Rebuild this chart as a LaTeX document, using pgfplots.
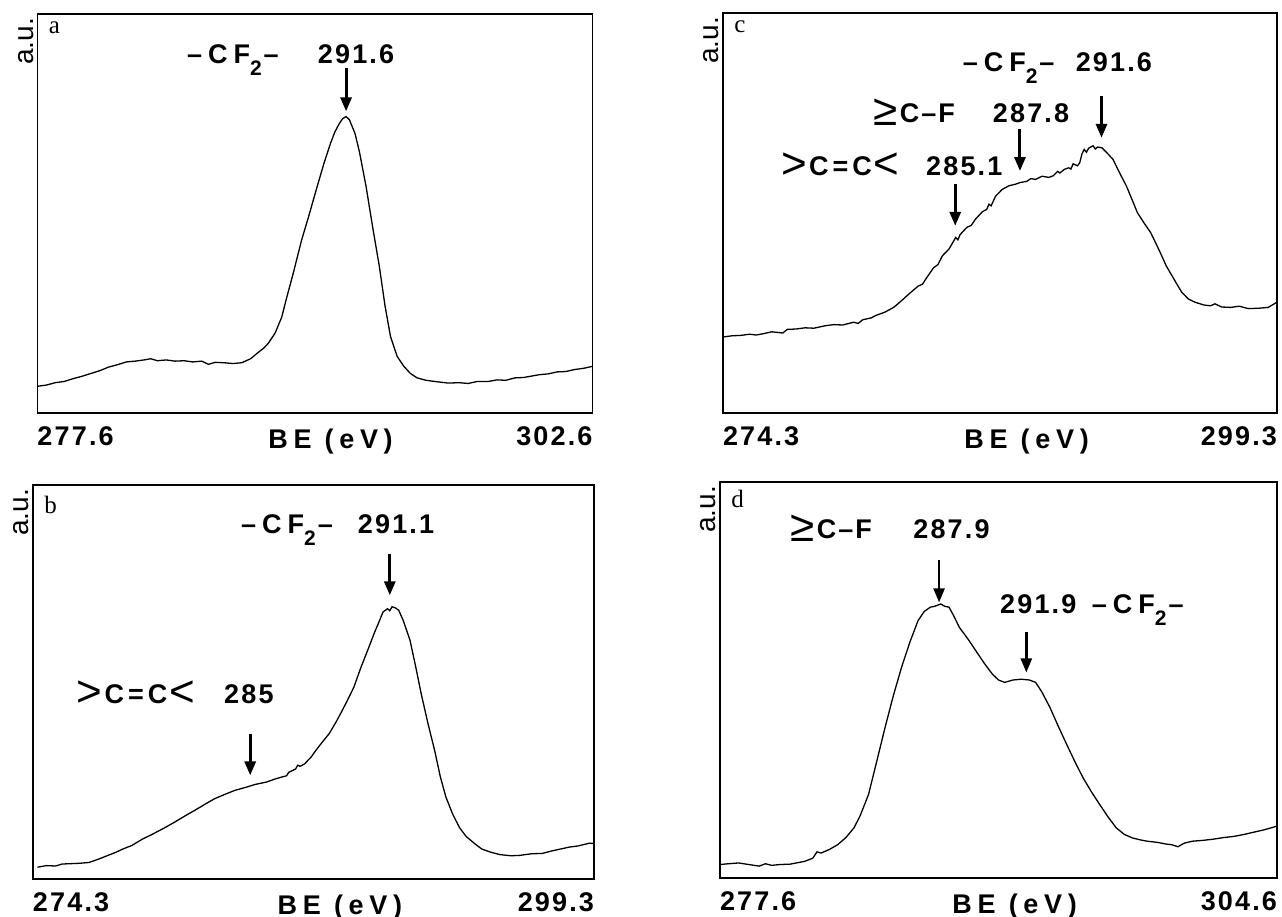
\documentclass[border=0pt]{standalone}
\usepackage{fontspec}
\setmainfont{Liberation Sans}
\newfontfamily\letterfont{Liberation Serif}
\newfontfamily\lblfont[LetterSpace=8]{Liberation Sans}
\newfontfamily\befont[LetterSpace=21]{Liberation Sans}
\usepackage{pgfplots}
\pgfplotsset{compat=1.18}
\usetikzlibrary{arrows.meta}

\newcommand\lbl{\lblfont\bfseries\fontsize{13.5}{15}\selectfont}
\newcommand\sub[1]{\raisebox{-6pt}{\fontsize{10.5}{10.5}\selectfont #1}}
\newcommand\CFtwo{–\hspace{3pt}C\hspace{3pt}F\sub{2}\hspace{1pt}–}
\newcommand\bigsym[1]{{\mdseries\fontsize{22}{22}\selectfont\raisebox{-1.5pt}{#1}}}
\newcommand\CeqC{\bigsym{>}\hspace{1pt}C\hspace{2pt}=\hspace{2pt}C\hspace{1pt}\bigsym{<}}
\newcommand\CF{\bigsym{≥}\hspace{1pt}C\hspace{1pt}–\hspace{1pt}F}

\pgfplotsset{
  xps/.style={
    scale only axis, anchor=north west,
    ymin=0, ymax=100, ytick=\empty,
    major tick length=0pt,
    axis line style={line width=0.9pt},
    clip=false,
    xticklabel style={anchor=base, yshift=-16pt, font=\lbl},
  },
  spec/.style={black, line width=0.65pt, no marks},
}
\tikzset{pk/.style={line width=1.5pt, -{Triangle[length=7pt, width=5.5pt]}}}
\newcommand\panelbits[3]{% letter, letter yshift, BE position
  \node[rotate=90, anchor=south east, inner sep=1.8pt,
        font=\fontsize{14}{14}\selectfont] at (rel axis cs:0,1) {a.u.};
  \node[anchor=base west, inner sep=0pt, font=\letterfont\fontsize{12.5}{13}\selectfont]
        at (rel axis cs:0,1) [xshift=5.5pt, yshift=#2] {#1};
  \node[anchor=base, inner sep=0pt, font=\befont\bfseries\fontsize{13.5}{15}\selectfont]
        at (rel axis cs:#3,0) [yshift=-17.5pt] {BE (eV)};
}

\begin{document}
\begin{tikzpicture}
\path[use as bounding box] (0,0) rectangle (641pt,-458.5pt);

% ---------------- panel a ----------------
\begin{axis}[xps, at={(18.75pt,-7pt)}, width=277.5pt, height=199.5pt,
  xmin=277.6, xmax=302.6,
  xtick={277.6,302.6}, xticklabels={\rlap{277.6},\llap{302.6}}]
\addplot[spec] coordinates {
(277.6,6.7) (278.0,7.0) (278.4,7.6) (278.8,7.9) (279.2,8.6) (279.6,9.2)
(280.0,9.9) (280.4,10.6) (280.8,11.5) (281.2,12.1) (281.6,12.8) (282.0,13.0)
(282.4,13.3) (282.7,13.6) (283.0,13.1) (283.4,13.3) (283.8,13.0) (284.2,13.1)
(284.6,12.8) (285.0,13.0) (285.3,12.2) (285.6,12.7) (286.0,12.6) (286.4,12.4)
(286.8,12.6) (287.2,13.6) (287.5,15.0) (287.8,16.3) (288.0,17.5) (288.3,20.0)
(288.6,24.0) (288.8,28.4) (289.1,34.6) (289.5,43.4) (289.8,49.0) (290.2,56.8)
(290.5,62.5) (290.8,67.6) (291.0,70.5) (291.2,72.6) (291.35,73.8) (291.5,74.3)
(291.65,73.5) (291.9,70.1) (292.1,65.5) (292.4,56.8) (292.7,46.5) (293.0,36.7)
(293.25,27.0) (293.5,19.2) (293.8,14.2) (294.1,11.7) (294.4,9.9) (294.7,8.8)
(295.1,8.2) (295.5,7.9) (296.1,7.5) (296.6,7.6) (297.0,7.4) (297.4,7.9)
(297.9,7.9) (298.3,8.3) (298.7,8.2) (299.1,8.8) (299.5,8.9) (299.8,9.2)
(300.2,9.6) (300.6,9.8) (301.0,10.3) (301.4,10.4) (301.8,10.9) (302.2,11.2)
(302.6,11.7)
};
\panelbits{a}{-9.5pt}{0.528}
\node[anchor=base, font=\lbl] at (axis cs:286.4,87.6) {\CFtwo};
\node[anchor=base, font=\lbl] at (axis cs:291.95,87.6) {291.6};
\draw[pk] (axis cs:291.5,86.4) -- (axis cs:291.5,75.6);
\end{axis}

% ---------------- panel c ----------------
\begin{axis}[xps, at={(361.5pt,-6.5pt)}, width=277pt, height=200pt,
  xmin=274.3, xmax=299.3,
  xtick={274.3,299.3}, xticklabels={\rlap{274.3},\llap{299.3}}]
\addplot[spec] coordinates {
(274.3,19.0) (274.7,19.3) (275.1,19.4) (275.5,19.7) (275.8,19.5) (276.1,19.8)
(276.5,20.3) (277.0,20.0) (277.2,20.9) (277.6,21.0) (278.0,21.3) (278.4,21.2)
(278.9,21.8) (279.3,22.1) (279.7,22.0) (280.2,22.7) (280.4,22.4) (280.6,23.3)
(281.0,23.8) (281.2,24.4) (281.6,25.2) (282.0,26.4) (282.3,27.8) (282.7,29.8)
(283.1,31.7) (283.3,32.2) (283.5,33.9) (283.8,36.3) (284.0,37.1) (284.2,39.3)
(284.5,41.0) (284.7,42.9) (284.8,43.9) (284.9,43.3) (285.0,44.6) (285.3,46.4)
(285.5,46.9) (285.7,48.5) (286.0,50.3) (286.2,50.9) (286.3,52.2) (286.4,51.8)
(286.6,54.2) (286.9,55.9) (287.2,56.8) (287.5,57.2) (287.7,57.6) (288.0,57.9)
(288.2,58.6) (288.4,58.4) (288.7,59.2) (289.0,58.9) (289.2,59.3) (289.4,60.4)
(289.5,60.0) (289.7,60.9) (289.9,61.3) (290.0,61.0) (290.1,62.3) (290.3,61.8)
(290.4,62.6) (290.5,64.8) (290.6,65.9) (290.7,65.2) (290.8,66.2) (291.0,66.8)
(291.1,66.0) (291.2,66.5) (291.4,66.3) (291.6,65.2) (291.9,63.4) (292.2,60.0)
(292.5,56.8) (292.8,52.8) (293.0,50.1) (293.3,47.5) (293.6,45.1) (294.0,40.5)
(294.3,36.8) (294.7,33.0) (295.0,30.2) (295.3,28.5) (295.6,27.7) (296.0,27.0)
(296.3,26.8) (296.5,27.3) (296.8,26.5) (297.2,26.4) (297.6,26.7) (298.0,26.1)
(298.5,26.2) (298.9,26.4) (299.3,27.7)
};
\panelbits{c}{-9.5pt}{0.548}
\node[anchor=base, font=\lbl] at (axis cs:287.19,85.5) {\CFtwo};
\node[anchor=base, font=\lbl] at (axis cs:291.94,85.5) {291.6};
\node[anchor=base, font=\lbl] at (axis cs:282.93,72.6) {\CF};
\node[anchor=base, font=\lbl] at (axis cs:288.2,72.6) {287.8};
\node[anchor=base, font=\lbl] at (axis cs:279.6,59.3) {\CeqC};
\node[anchor=base, font=\lbl] at (axis cs:285.19,59.3) {285.1};
\draw[pk] (axis cs:284.78,57.2) -- (axis cs:284.78,46.8);
\draw[pk] (axis cs:287.7,70.9) -- (axis cs:287.7,60.5);
\draw[pk] (axis cs:291.38,79.2) -- (axis cs:291.38,68.8);
\end{axis}

% ---------------- panel b ----------------
\begin{axis}[xps, at={(16.5pt,-242.5pt)}, width=280.5pt, height=197pt,
  xmin=274.3, xmax=299.3,
  xtick={274.3,299.3}, xticklabels={\rlap{274.3},\llap{299.3}}]
\addplot[spec] coordinates {
(274.5,3.0) (274.9,3.4) (275.3,3.3) (275.6,3.8) (276.0,3.9) (276.4,4.0)
(276.8,4.2) (277.2,5.0) (277.6,5.9) (278.0,6.8) (278.3,7.6) (278.7,8.5)
(279.2,10.2) (279.6,11.3) (280.2,13.1) (280.6,14.4) (281.1,16.1) (281.5,17.4)
(282.0,19.1) (282.4,20.4) (282.9,21.6) (283.3,22.5) (283.8,23.3) (284.2,24.0)
(284.7,24.6) (285.1,25.4) (285.4,25.9) (285.6,26.2) (285.7,27.1) (286.0,27.9)
(286.1,28.9) (286.2,28.6) (286.4,29.2) (286.7,31.0) (286.9,32.6) (287.2,34.8)
(287.5,36.9) (287.8,39.8) (288.0,41.9) (288.3,45.2) (288.6,48.7) (288.9,53.5)
(289.1,56.4) (289.3,59.3) (289.5,62.3) (289.7,65.0) (289.9,67.8) (290.1,68.6)
(290.2,68.1) (290.3,69.1) (290.45,68.8) (290.6,68.2) (290.8,65.6) (291.1,60.6)
(291.35,54.0) (291.6,47.0) (291.9,39.5) (292.2,32.6) (292.45,26.0) (292.7,20.8)
(293.0,16.5) (293.3,13.1) (293.6,10.8) (294.0,8.9) (294.3,7.6) (294.7,6.8)
(295.1,6.2) (295.6,5.9) (296.0,6.0) (296.5,6.4) (297.0,6.5) (297.4,7.1)
(297.8,7.6) (298.2,8.1) (298.6,8.4) (299.1,9.1) (299.3,9.0)
};
\panelbits{b}{-14pt}{0.547}
\node[anchor=base, font=\lbl] at (axis cs:285.62,87.7) {\CFtwo};
\node[anchor=base, font=\lbl] at (axis cs:290.48,87.7) {291.1};
\node[anchor=base, font=\lbl] at (axis cs:278.89,44.5) {\CeqC};
\node[anchor=base, font=\lbl] at (axis cs:283.92,44.5) {285};
\draw[pk] (axis cs:283.98,36.9) -- (axis cs:283.98,26.3);
\draw[pk] (axis cs:290.2,82.6) -- (axis cs:290.2,72.0);
\end{axis}

% ---------------- panel d ----------------
\begin{axis}[xps, at={(360pt,-241pt)}, width=278.5pt, height=198pt,
  xmin=277.6, xmax=304.6,
  xtick={277.6,304.6}, xticklabels={\rlap{277.6},\llap{304.6}}]
\addplot[spec] coordinates {
(277.6,3.4) (278.0,3.6) (278.5,3.8) (279.0,3.4) (279.5,3.0) (279.8,3.6)
(280.1,3.2) (280.5,3.4) (281.0,3.5) (281.4,3.9) (281.7,4.2) (282.1,5.0)
(282.3,6.6) (282.5,6.3) (282.9,7.2) (283.3,8.4) (283.7,10.2) (284.1,12.7)
(284.4,15.8) (284.8,21.1) (285.2,29.5) (285.6,38.0) (286.0,46.0) (286.4,53.2)
(286.8,59.5) (287.2,65.0) (287.5,67.3) (287.8,68.4) (288.0,68.6) (288.3,69.2)
(288.5,68.6) (288.7,68.4) (288.95,66.0) (289.2,63.3) (289.6,60.5) (290.0,57.4)
(290.4,54.3) (290.8,51.5) (291.1,50.0) (291.4,49.4) (291.8,50.0) (292.2,50.2)
(292.6,50.0) (292.9,49.4) (293.2,47.0) (293.6,43.0) (294.0,38.3) (294.4,33.8)
(294.8,29.4) (295.2,25.3) (295.6,21.8) (296.0,18.6) (296.4,15.5) (296.8,12.7)
(297.2,11.0) (297.6,10.1) (298.0,9.6) (298.3,9.3) (298.8,9.0) (299.2,8.6)
(299.5,8.4) (299.8,7.9) (300.1,8.8) (300.5,9.3) (301.0,9.5) (301.5,9.8)
(302.0,10.2) (302.5,10.5) (303.0,11.0) (303.5,11.6) (304.0,12.2) (304.6,13.1)
};
\panelbits{d}{-12.5pt}{0.529}
\node[anchor=base, font=\lbl] at (axis cs:283.0,85.7) {\CF};
\node[anchor=base, font=\lbl] at (axis cs:288.82,85.7) {287.9};
\node[anchor=base, font=\lbl] at (axis cs:293.03,66.7) {291.9};
\node[anchor=base, font=\lbl] at (axis cs:297.85,66.7) {\CFtwo};
\draw[pk, line width=1.2pt] (axis cs:288.22,80.2) -- (axis cs:288.22,69.6);
\draw[pk, line width=1.2pt] (axis cs:292.45,62.0) -- (axis cs:292.45,51.9);
\end{axis}
\end{tikzpicture}
\end{document}
